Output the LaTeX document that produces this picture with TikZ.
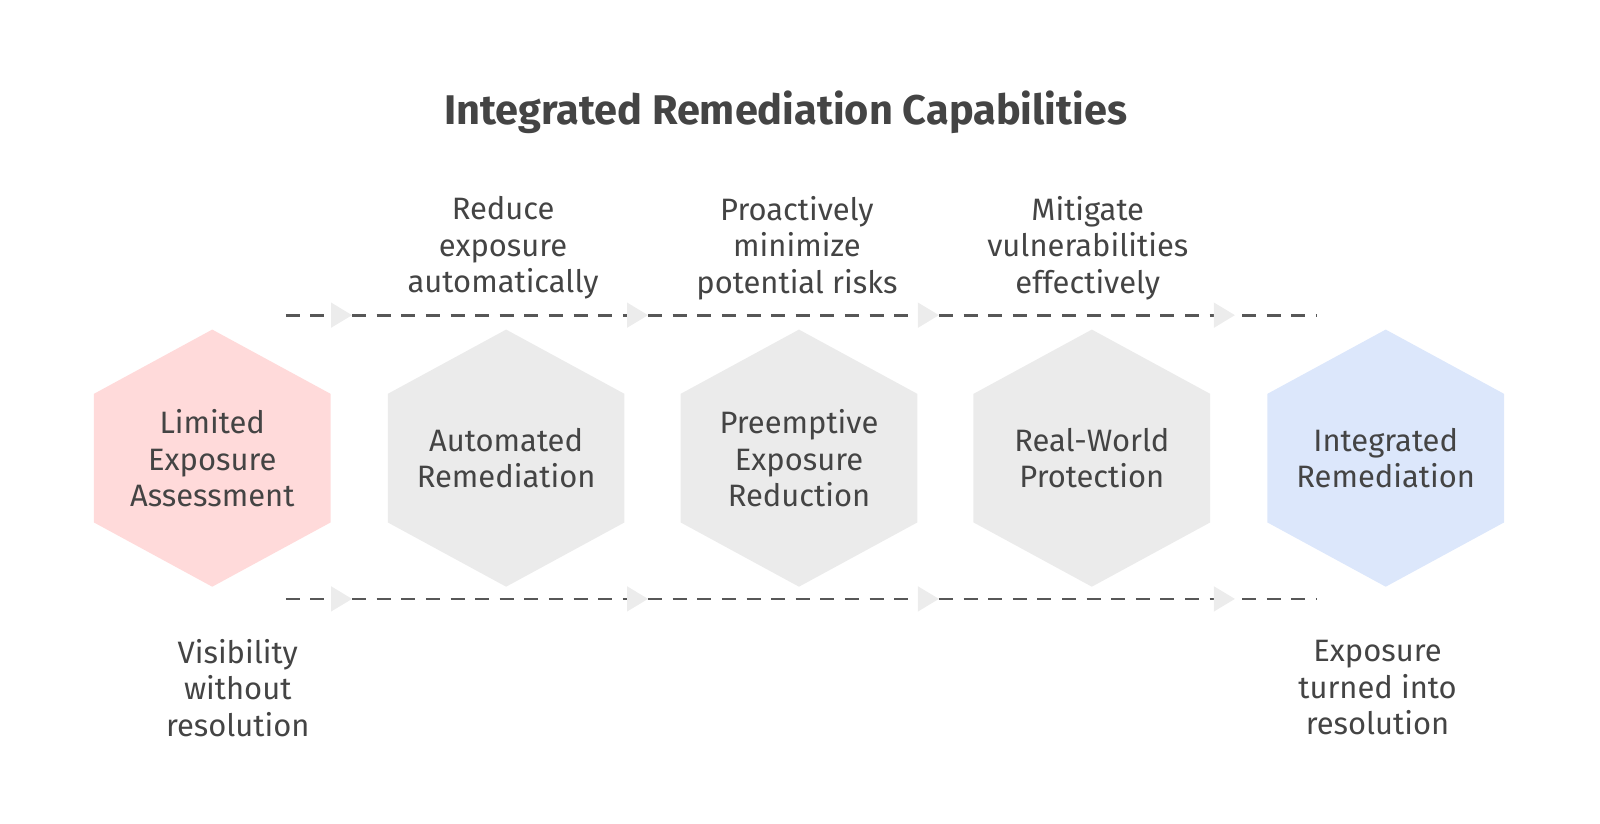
\documentclass[tikz,border=0pt]{standalone}
\usepackage{fontspec}
\setmainfont{Fira Sans}
\usetikzlibrary{arrows.meta}
\definecolor{txt}{HTML}{444444}
\definecolor{hexred}{HTML}{FFDADA}
\definecolor{hexgray}{HTML}{EBEBEB}
\definecolor{hexblue}{HTML}{DCE7FB}
\tikzset{
  lbl/.style={text=txt, align=center, font=\fontsize{8.8}{10.4}\selectfont},
  flow/.style={dashed, dash pattern=on 4pt off 3pt, thick, txt!90},
  tip/.style={-{Triangle[length=6pt,width=7pt,color=gray!15,fill=gray!15,sep=0pt]}},
}
\newcommand{\hexat}[3]{% x, y, colour
  \fill[#3] (#1,#2) ++(0,1.26) -- ++(1.16,-0.63) -- ++(0,-1.26) -- ++(-1.16,-0.63)
    -- ++(-1.16,0.63) -- ++(0,1.26) -- cycle;}
\begin{document}
\begin{tikzpicture}
        \useasboundingbox (0,0) rectangle (16,8.24);
        \begin{scope}[shift={(0,8.24)}, scale=1.0204, shift={(0,-8.24)}]
        \node[text=txt, font=\bfseries\fontsize{11.8}{13}\selectfont] (title) at (7.7,7.14) {Integrated Remediation Capabilities};

        \hexat{2.08}{3.75}{hexred}
        \hexat{4.96}{3.75}{hexgray}
        \hexat{7.83}{3.75}{hexgray}
        \hexat{10.70}{3.75}{hexgray}
        \hexat{13.58}{3.75}{hexblue}

        \node[lbl] (limited) at (2.08,3.75) {Limited\\Exposure\\Assessment};
        \node[lbl] (auto) at (4.96,3.75) {Automated\\Remediation};
        \node[lbl] (preempt) at (7.83,3.75) {Preemptive\\Exposure\\Reduction};
        \node[lbl] (real) at (10.70,3.75) {Real-World\\Protection};
        \node[lbl] (integ) at (13.58,3.75) {Integrated\\Remediation};

        \node[lbl] (reduce) at (4.93,5.81) {Reduce\\exposure\\automatically};
        \node[lbl] (proact) at (7.81,5.81) {Proactively\\minimize\\potential risks};
        \node[lbl] (mitig) at (10.66,5.81) {Mitigate\\vulnerabilities\\effectively};
        \node[lbl] (visib) at (2.33,1.50) {Visibility\\without\\resolution};
        \node[lbl] (expos) at (13.50,1.50) {Exposure\\turned into\\resolution};

        % dashed flows above and below
        \foreach \y/\r in {5.15/t, 2.37/b} {
          \coordinate (\r0) at (2.80,\y);
          \coordinate (\r1) at (3.45,\y);
          \coordinate (\r2) at (6.35,\y);
          \coordinate (\r3) at (9.20,\y);
          \coordinate (\r4) at (12.10,\y);
          \coordinate (\r5) at (12.90,\y);
          \draw[flow, tip] (\r0) -- (\r1);
          \draw[flow, tip] (\r1) -- (\r2);
          \draw[flow, tip] (\r2) -- (\r3);
          \draw[flow, tip] (\r3) -- (\r4);
          \draw[flow] ([xshift=2pt]\r4) -- (\r5);
        }
        \end{scope}
    \end{tikzpicture}
\end{document}
